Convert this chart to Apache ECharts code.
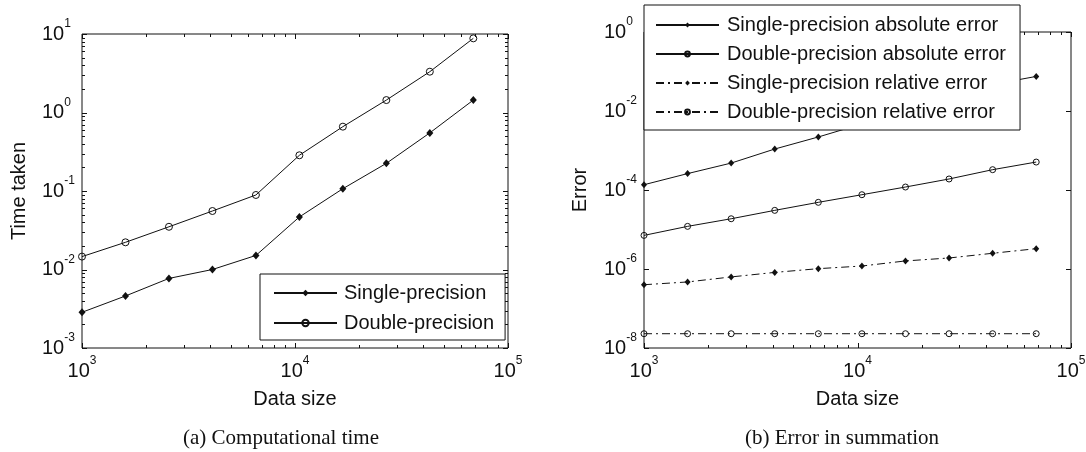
<!DOCTYPE html>
<html>
<head>
<meta charset="utf-8">
<script src="https://cdn.jsdelivr.net/npm/echarts@6/dist/echarts.min.js"></script>
<style>
  html, body { margin: 0; padding: 0; background: #fff; }
  #chart { width: 1086px; height: 452px; }
</style>
</head>
<body>
<div id="chart"></div>
<script>
// data sizes (shared x values of both panels)
var dataSize = [1000, 1600, 2560, 4096, 6554, 10486, 16777, 26844, 42950, 68719];

// (a) computational time
var singleTime = [0.00285, 0.0046, 0.0077, 0.0100, 0.0151, 0.0467, 0.107, 0.225, 0.55, 1.44];
var doubleTime = [0.0146, 0.0222, 0.035, 0.0556, 0.089, 0.285, 0.66, 1.44, 3.31, 8.8];

// (b) error in summation
var singleAbs = [1.36e-4, 2.6e-4, 4.8e-4, 1.09e-3, 2.2e-3, 4.7e-3, 1.0e-2, 2.1e-2, 4.7e-2, 7.5e-2];
var doubleAbs = [7.1e-6, 1.2e-5, 1.87e-5, 3.05e-5, 4.87e-5, 7.6e-5, 1.19e-4, 1.9e-4, 3.27e-4, 5.1e-4];
var singleRel = [4.0e-7, 4.7e-7, 6.3e-7, 8.2e-7, 1.02e-6, 1.19e-6, 1.6e-6, 1.9e-6, 2.5e-6, 3.27e-6];
var doubleRel = [2.3e-8, 2.3e-8, 2.3e-8, 2.3e-8, 2.3e-8, 2.3e-8, 2.3e-8, 2.3e-8, 2.3e-8, 2.3e-8];

// tick values
var xMajor = [1e3, 1e4, 1e5];
var xMinorDecades = [1e3, 1e4];
var yMajorA = [1e-3, 1e-2, 1e-1, 1, 10];
var yMinorDecadesA = [1e-3, 1e-2, 1e-1, 1];
var yMajorB = [1e-8, 1e-6, 1e-4, 1e-2, 1];
var mantissas = [2, 3, 4, 5, 6, 7, 8, 9];

var FONT = '"Liberation Sans", Arial, sans-serif';
var INK = '#111';

function minors(decades) {
  var out = [];
  decades.forEach(function (d) {
    mantissas.forEach(function (m) { out.push(m * d); });
  });
  return out;
}

function tickData(xMaj, xMin, yMaj, yMin, x0, y0) {
  var d = [];
  xMaj.forEach(function (v) { d.push([v, y0, 0, 5]); });
  xMin.forEach(function (v) { d.push([v, y0, 0, 3]); });
  yMaj.forEach(function (v) { d.push([x0, v, 1, 5]); });
  yMin.forEach(function (v) { d.push([x0, v, 1, 3]); });
  return d;
}

// MATLAB style inside ticks on all four sides of the box
function renderTick(params, api) {
  var cs = params.coordSys;
  var p = api.coord([api.value(0), api.value(1)]);
  var len = api.value(3);
  var st = { stroke: INK, lineWidth: 1 };
  if (api.value(2) === 0) {
    var x = Math.round(p[0]) + 0.5;
    var yb = cs.y + cs.height, yt = cs.y;
    return { type: 'group', children: [
      { type: 'line', shape: { x1: x, y1: yb, x2: x, y2: yb - len }, style: st },
      { type: 'line', shape: { x1: x, y1: yt, x2: x, y2: yt + len }, style: st }
    ]};
  }
  var y = Math.round(p[1]) + 0.5;
  var xl = cs.x, xr = cs.x + cs.width;
  return { type: 'group', children: [
    { type: 'line', shape: { x1: xl, y1: y, x2: xl + len, y2: y }, style: st },
    { type: 'line', shape: { x1: xr, y1: y, x2: xr - len, y2: y }, style: st }
  ]};
}

var richPow = {
  b: { fontSize: 20, fontFamily: FONT, color: INK, lineHeight: 32 },
  s: { fontSize: 12, fontFamily: FONT, color: INK, lineHeight: 12, verticalAlign: 'top' }
};

function powLabel(skipOdd) {
  return function (value) {
    var e = Math.round(Math.log(value) / Math.LN10);
    if (skipOdd && e % 2 !== 0) return '';
    return '{b|10}{s|' + e + '}';
  };
}

function xAxisCfg(gi) {
  return {
    gridIndex: gi, type: 'log', logBase: 10, min: 1e3, max: 1e5,
    axisLine: { show: false }, axisTick: { show: false }, splitLine: { show: false },
    axisLabel: { formatter: powLabel(false), rich: richPow, margin: 7 },
    name: 'Data size', nameLocation: 'middle', nameGap: 41,
    nameTextStyle: { fontSize: 20, fontFamily: FONT, color: INK }
  };
}

function yAxisCfg(gi, min, max, name, gap, skipOdd) {
  return {
    gridIndex: gi, type: 'log', logBase: 10, min: min, max: max,
    axisLine: { show: false }, axisTick: { show: false }, splitLine: { show: false },
    axisLabel: { formatter: powLabel(skipOdd), rich: richPow, align: 'left', margin: 40 },
    name: name, nameLocation: 'middle', nameGap: gap,
    nameTextStyle: { fontSize: 20, fontFamily: FONT, color: INK }
  };
}

function pairs(ys) {
  return dataSize.map(function (x, i) { return [x, ys[i]]; });
}

function lineSeries(name, gi, ys, marker, size, dashed) {
  var filled = marker === 'diamond';
  return {
    name: name, type: 'line', xAxisIndex: gi, yAxisIndex: gi,
    data: pairs(ys),
    symbol: marker, symbolSize: size, showAllSymbol: true,
    itemStyle: filled ? { color: INK } :
      { color: 'rgba(255,255,255,0)', borderColor: INK, borderWidth: 1 },
    lineStyle: { color: INK, width: 1, type: dashed ? [8, 4, 2, 4] : 'solid' },
    emphasis: { disabled: true },
    z: 2
  };
}

function legendCfg(names, left, top, pad, itemH, gap, textPad) {
  return {
    data: names, orient: 'vertical', left: left, top: top,
    padding: pad, itemWidth: 63, itemHeight: itemH, itemGap: gap,
    backgroundColor: '#fff', borderColor: INK, borderWidth: 1, borderRadius: 0,
    selectedMode: false,
    textStyle: { fontSize: 20, fontFamily: FONT, color: INK, lineHeight: 20, padding: [0, 0, 0, textPad] },
    z: 10
  };
}

var chart = echarts.init(document.getElementById('chart'), null, { renderer: 'canvas' });

chart.setOption({
  animation: false,
  backgroundColor: '#fff',
  grid: [
    { left: 82, top: 34, width: 426, height: 314, show: true, borderColor: INK, borderWidth: 1,
      backgroundColor: '#fff', outerBoundsMode: 'none' },
    { left: 644, top: 32, width: 427, height: 316, show: true, borderColor: INK, borderWidth: 1,
      backgroundColor: '#fff', outerBoundsMode: 'none' }
  ],
  xAxis: [xAxisCfg(0), xAxisCfg(1)],
  yAxis: [
    yAxisCfg(0, 1e-3, 10, 'Time taken', 53, false),
    yAxisCfg(1, 1e-8, 1, 'Error', 54, true)
  ],
  legend: [
    legendCfg(['Single-precision', 'Double-precision'], 260, 274, [9, 11, 7, 13], 8, 10, 2),
    legendCfg(['Single-precision absolute error', 'Double-precision absolute error',
               'Single-precision relative error', 'Double-precision relative error'],
              644, 5, [10, 14, 8, 11], 6, 9, 3)
  ],
  series: [
    { type: 'custom', name: 'ticksA', xAxisIndex: 0, yAxisIndex: 0, silent: true,
      renderItem: renderTick,
      data: tickData(xMajor, minors(xMinorDecades), yMajorA, minors(yMinorDecadesA), 1e3, 1e-3) },
    { type: 'custom', name: 'ticksB', xAxisIndex: 1, yAxisIndex: 1, silent: true,
      renderItem: renderTick,
      data: tickData(xMajor, minors(xMinorDecades), yMajorB, [], 1e3, 1e-8) },
    lineSeries('Single-precision', 0, singleTime, 'diamond', [7, 8], false),
    lineSeries('Double-precision', 0, doubleTime, 'circle', 7, false),
    lineSeries('Single-precision absolute error', 1, singleAbs, 'diamond', [6, 7], false),
    lineSeries('Double-precision absolute error', 1, doubleAbs, 'circle', 6, false),
    lineSeries('Single-precision relative error', 1, singleRel, 'diamond', [6, 7], true),
    lineSeries('Double-precision relative error', 1, doubleRel, 'circle', 6, true)
  ],
  graphic: [
    { type: 'text', x: 281, y: 438, silent: true,
      style: { text: '(a) Computational time', font: '21px "Liberation Serif", "Times New Roman", serif',
               fill: INK, align: 'center', verticalAlign: 'middle' } },
    { type: 'text', x: 842, y: 438, silent: true,
      style: { text: '(b) Error in summation', font: '21px "Liberation Serif", "Times New Roman", serif',
               fill: INK, align: 'center', verticalAlign: 'middle' } }
  ]
});

window.addEventListener('resize', function () { chart.resize(); });
</script>
</body>
</html>
